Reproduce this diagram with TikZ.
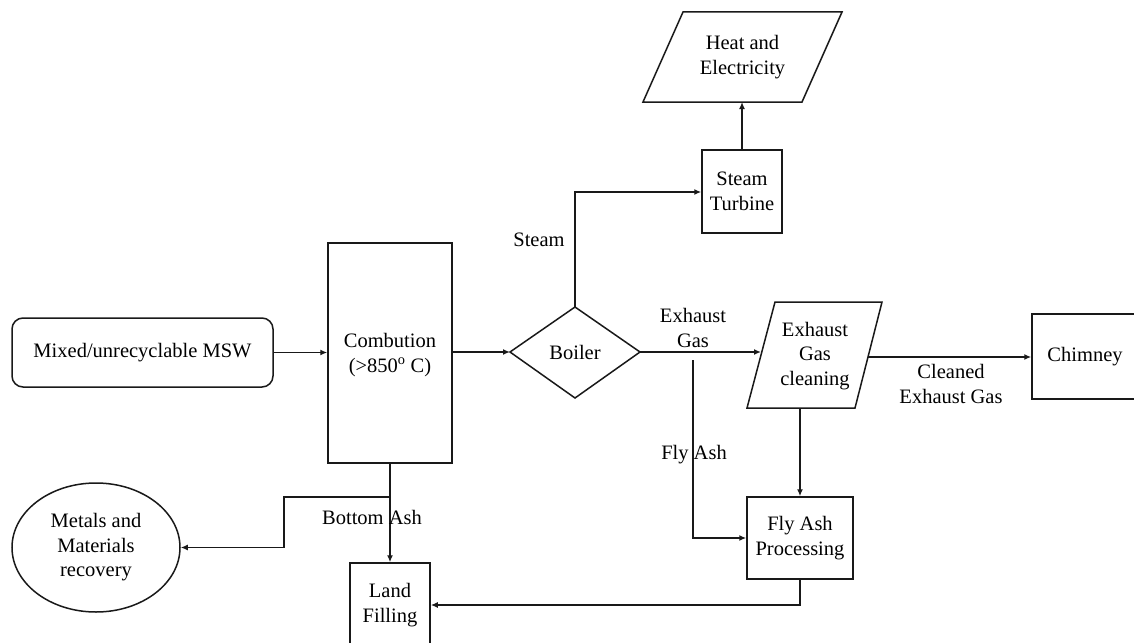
\documentclass[tikz,border=0pt]{standalone}
\usepackage{fontspec}
\setmainfont{Liberation Serif}
\usetikzlibrary{shapes.geometric,arrows.meta}
\tikzset{
  ln/.style={line width=1.5pt,draw=black!90},
  arr/.style={ln,-{Latex[length=7pt,width=6pt]}},
  box/.style={ln,rectangle,align=center,inner sep=0pt},
  txt/.style={align=center,inner sep=0pt},
  lbl/.style={align=center,inner sep=0pt,fill=none}
}
\begin{document}
\begin{tikzpicture}[x=1pt,y=-1pt,font=\fontsize{20.5}{24.5}\selectfont]
\clip (0,0) rectangle (1134,642);
\fill[white] (0,0) rectangle (1134,642);
% nodes
\node[box,rounded corners=11pt,minimum width=261pt,minimum height=69pt] (msw) at (142.5,352.5) {Mixed/unrecyclable MSW};
\node[box,minimum width=124pt,minimum height=220pt] (comb) at (390,353) {};
\node[txt] (combt) at (390,355) {Combution\\(>850\textsuperscript{o} C)};
% boiler diamond
\coordinate (bL) at (510,352);
\coordinate (bR) at (640,352);
\coordinate (bT) at (575,307);
\coordinate (bB) at (575,398);
\draw[ln,line join=miter] (bL)--(bT)--(bR)--(bB)--cycle;
\node[txt] (boiler) at (575,352) {Boiler};
% steam turbine
\node[box,minimum width=80pt,minimum height=83pt] (turb) at (742,191.5) {Steam\\Turbine};
% heat and electricity
\draw[ln] (683,12)--(842,12)--(802,102)--(643,102)--cycle;
\coordinate (heatB) at (742,102);
\node[txt] (heat) at (742.5,57) {Heat and\\Electricity};
% exhaust gas cleaning
\draw[ln] (775,302)--(882,302)--(855,408)--(747,408)--cycle;
\coordinate (egcL) at (761,352);
\coordinate (egcR) at (868,357);
\coordinate (egcB) at (800,408);
\node[txt] (egc) at (815,356) {Exhaust\\Gas\\cleaning};
% chimney
\node[box,minimum width=108pt,minimum height=85pt] (chim) at (1086,356.5) {};
\node[txt] (chimt) at (1085,356.5) {Chimney};
% fly ash processing
\node[box,minimum width=106pt,minimum height=82pt] (fap) at (800,538) {Fly Ash\\Processing};
% land filling
\node[box,minimum width=80pt,minimum height=87pt] (land) at (390,606.5) {};
\node[txt] (landt) at (390,605) {Land\\Filling};
% metals ellipse
\node[ln,ellipse,minimum width=168pt,minimum height=129pt,align=center,inner sep=0pt] (metal) at (96,547.5) {Metals and\\Materials\\recovery};
% connectors
\draw[arr] (msw.east) -- (comb.west |- msw.east);
\draw[arr] (comb.east |- bL) -- (bL);
\coordinate (stc) at (575,192);
\draw[arr] (bT) -- (stc) -- (turb.west |- stc);
\draw[arr] (turb.north) -- (heatB);
\draw[arr] (bR) -- (egcL);
\draw[arr] (egcR) -- (chim.west |- egcR);
\draw[arr] (egcB) -- (fap.north);
\coordinate (fa0) at (693,360);
\coordinate (fa1) at (693,538);
\draw[arr] (fa0) -- (fa1) -- (fap.west);
\coordinate (fp1) at (800,605);
\draw[arr] (fap.south) -- (fp1) -- (land.east |- fp1);
\draw[arr] (comb.south) -- (land.north);
\coordinate (br) at (390,497);
\coordinate (br1) at (284,497);
\coordinate (br2) at (284,547.5);
\draw[arr] (br) -- (br1) -- (br2) -- (metal.east);
% labels
\node[lbl] (lsteam) at (539,240) {Steam};
\node[lbl] (lexh) at (693,328) {Exhaust\\Gas};
\node[lbl] (lclean) at (951,384) {Cleaned\\Exhaust Gas};
\node[lbl] (lfly) at (694,455) {Fly Ash};
\node[lbl] (lbot) at (372,517) {Bottom Ash};
\end{tikzpicture}
\end{document}
